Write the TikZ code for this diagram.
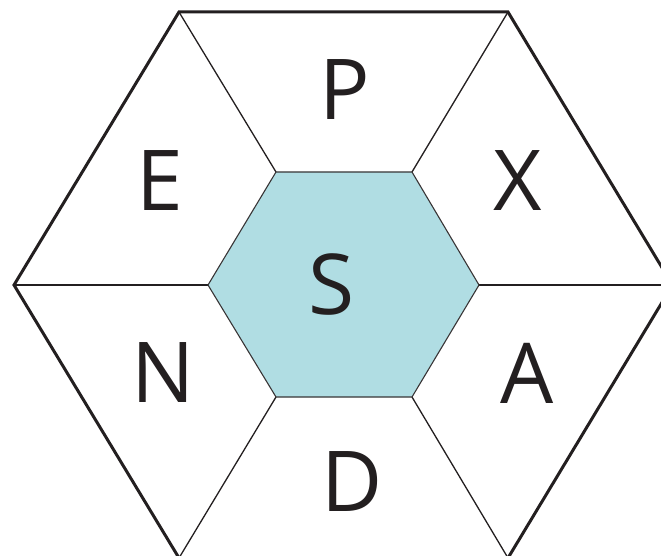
\documentclass[tikz,border=0pt]{standalone}
\usepackage{fontspec}
\setmainfont{Open Sans}
\definecolor{hexfill}{RGB}{176,221,227}
\definecolor{ink}{RGB}{35,31,32}
\tikzset{
  outerline/.style={draw=ink, line width=3pt, line join=miter},
  innerline/.style={draw=ink!90, line width=1.1pt},
  spoke/.style={draw=ink, line width=1.3pt},
  letter/.style={inner sep=0pt, anchor=center, text=ink, font=\fontsize{84}{84}\selectfont}
}
\begin{document}
\begin{tikzpicture}[x=1pt,y=-1pt]
\useasboundingbox (0,0) rectangle (661,556);
\clip (0,0) rectangle (661,556);
% outer vertices
\coordinate (o1) at (179,12);
\coordinate (o2) at (508,12);
\coordinate (o3) at (672.5,285);
\coordinate (o4) at (508,558);
\coordinate (o5) at (179,558);
\coordinate (o6) at (14,285);
% inner vertices
\coordinate (i1) at (276,172);
\coordinate (i2) at (412,172);
\coordinate (i3) at (479,285);
\coordinate (i4) at (412,397);
\coordinate (i5) at (276,397);
\coordinate (i6) at (208,285);
\fill[hexfill] (i1) -- (i2) -- (i3) -- (i4) -- (i5) -- (i6) -- cycle;
\foreach \k in {1,...,6} { \draw[spoke] (i\k) -- (o\k); }
\draw[innerline] (i1) -- (i2) -- (i3) -- (i4) -- (i5) -- (i6) -- cycle;
\draw[outerline] (o1) -- (o2) -- (o3) -- (o4) -- (o5) -- (o6) -- cycle;
\node[letter] (S) at (332,284) {S};
\node[letter] (P) at (345,90) {P};
\node[letter] (E) at (160,181) {E};
\node[letter] (X) at (518,181) {X};
\node[letter] (N) at (163,373) {N};
\node[letter] (A) at (527,373) {A};
\node[letter] (D) at (352,482) {D};
\end{tikzpicture}
\end{document}
